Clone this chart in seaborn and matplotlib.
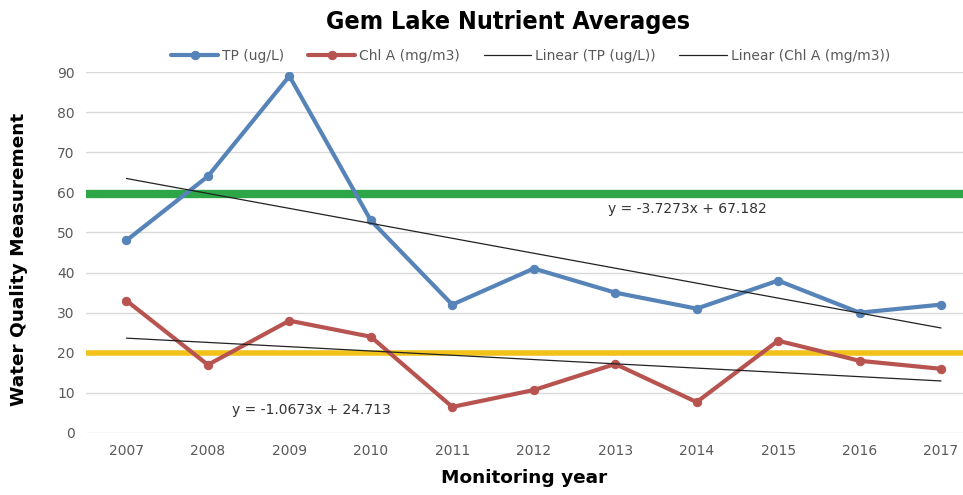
import numpy as np
import pandas as pd
import seaborn as sns
import matplotlib.pyplot as plt

# data
years = ['2007', '2008', '2009', '2010', '2011', '2012', '2013', '2014', '2015', '2016', '2017']
tp = [48, 64, 89, 53, 32, 41, 35, 31, 38, 30, 32]
chl = [33, 17, 28, 24, 6.5, 10.7, 17.2, 7.7, 23, 18, 16]

# trendline equations shown on the chart (x = 1..11)
tp_fit = (-3.7273, 67.182)
chl_fit = (-1.0673, 24.713)

tp_target = 59.5
chl_target = 20

sns.set_style("whitegrid")
plt.rcParams['font.family'] = ['DejaVu Sans']

fig = plt.figure(figsize=(9.63, 4.95), dpi=100)
ax = fig.add_axes([0.089, 0.1253, 0.911, 0.7292])

idx = np.arange(len(years))
df = pd.DataFrame({'idx': idx, 'TP': tp, 'Chl': chl})
df['TP_lin'] = tp_fit[0] * (idx + 1) + tp_fit[1]
df['Chl_lin'] = chl_fit[0] * (idx + 1) + chl_fit[1]

ax.axhline(tp_target, color='#2ca646', lw=6, zorder=2)
ax.axhline(chl_target, color='#f2c21b', lw=4, zorder=2)

blue = '#5683b8'
red = '#b85450'
sns.lineplot(data=df, x='idx', y='TP', ax=ax, color=blue, lw=3, marker='o', markersize=6,
             markeredgecolor=blue, label='TP (ug/L)', zorder=4)
sns.lineplot(data=df, x='idx', y='Chl', ax=ax, color=red, lw=3, marker='o', markersize=6,
             markeredgecolor=red, label='Chl A (mg/m3)', zorder=4)
sns.lineplot(data=df, x='idx', y='TP_lin', ax=ax, color='#222222', lw=0.9,
             label='Linear (TP (ug/L))', zorder=5)
sns.lineplot(data=df, x='idx', y='Chl_lin', ax=ax, color='#222222', lw=0.9,
             label='Linear (Chl A (mg/m3))', zorder=5)

ax.text(6.89, 55.8, 'y = -3.7273x + 67.182', fontsize=10, color='#333333', ha='center', va='center')
ax.text(2.27, 5.7, 'y = -1.0673x + 24.713', fontsize=10, color='#333333', ha='center', va='center')

ax.set_xlim(-0.5, 10.27)
ax.set_ylim(0, 90)
ax.set_yticks(range(0, 91, 10))
ax.set_xticks(idx)
ax.set_xticklabels(years)
ax.tick_params(axis='both', labelsize=10, colors='#595959', length=0, pad=8)
ax.grid(axis='y', color='#d9d9d9', lw=1)
ax.grid(axis='x', visible=False)
for s in ax.spines.values():
    s.set_visible(False)

ax.set_xlabel('Monitoring year', fontsize=13.3, fontweight='bold', color='black', labelpad=8)
ax.set_ylabel('Water Quality Measurement', fontsize=13.3, fontweight='bold', color='black')
ax.yaxis.set_label_coords(-0.066, 0.48)

fig.text(0.527, 0.955, 'Gem Lake Nutrient Averages', ha='center', va='center', fontsize=18,
         fontweight='bold', fontstretch='condensed', color='black')

leg = ax.legend(loc='lower center', bbox_to_anchor=(0.507, 0.99), ncol=4, frameon=False,
                fontsize=10, handlelength=3.4, columnspacing=1.7, handletextpad=0.3)
for t in leg.get_texts():
    t.set_color('#595959')

fig.savefig('out.png', dpi=100)
